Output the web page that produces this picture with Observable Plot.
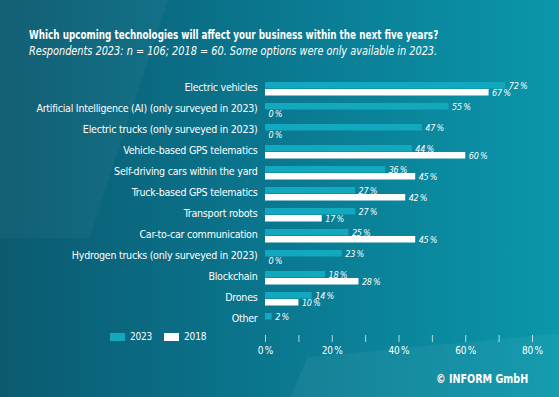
<!DOCTYPE html>
<html><head><meta charset="utf-8">
<script src="https://cdn.jsdelivr.net/npm/d3@7"></script>
<script src="https://cdn.jsdelivr.net/npm/@observablehq/plot@0.6"></script>
<style>
body{margin:0;}
#wrap{position:relative;width:559px;height:397px;overflow:hidden;background:linear-gradient(90deg,#0b5a70 0%,#0a7890 50%,#0a97ab 100%);font-family:"DejaVu Sans Condensed","DejaVu Sans",sans-serif;font-stretch:condensed;color:#fff;}
#shade1{position:absolute;inset:0;background:rgba(255,255,255,0.035);clip-path:polygon(0% 0%,30% 0%,16% 60%,0% 60%);}
#shade2{position:absolute;inset:0;background:rgba(255,255,255,0.05);clip-path:polygon(52% 100%,55% 90%,100% 84%,100% 100%);}
#title{position:absolute;left:29px;top:27px;font-weight:bold;font-size:13px;white-space:nowrap;transform:scaleX(0.755);transform-origin:0 0;}
#subtitle{position:absolute;left:29px;top:43px;font-style:italic;font-size:12.5px;white-space:nowrap;transform:scaleX(0.866);transform-origin:0 0;}
#chart{position:absolute;left:0;top:70px;}
#legend{position:absolute;left:110px;top:331px;font-size:10px;display:flex;gap:12px;letter-spacing:-0.2px;}
#legend span.sw{display:inline-block;width:15px;height:8px;margin-right:5px;vertical-align:-1px;}
#copy{position:absolute;left:436px;top:371px;font-size:13px;font-weight:bold;white-space:nowrap;transform:scaleX(0.82);transform-origin:0 0;}
</style></head>
<body><div id="wrap">
<div id="shade1"></div><div id="shade2"></div>
<div id="title">Which upcoming technologies will affect your business within the next five years?</div>
<div id="subtitle">Respondents 2023: n = 106; 2018 = 60. Some options were only available in 2023.</div>
<div id="chart"></div>
<div id="legend"></div>
<div id="copy">© INFORM GmbH</div>
</div>
<script>
const categories = ["Electric vehicles","Artificial Intelligence (AI) (only surveyed in 2023)","Electric trucks (only surveyed in 2023)","Vehicle-based GPS telematics","Self-driving cars within the yard","Truck-based GPS telematics","Transport robots","Car-to-car communication","Hydrogen trucks (only surveyed in 2023)","Blockchain","Drones","Other"];
const values2023 = [72,55,47,44,36,27,27,25,23,18,14,2];
const values2018 = [67,0,0,60,45,42,17,45,0,28,10,null];
const series = ["2023","2018"];
const seriesColors = ["#12a8be","#ffffff"];
const xTicks = [0,10,20,30,40,50,60,70,80];

const data = categories.flatMap((c,i)=>[
  {category:c, year:"2023", value:values2023[i]},
  {category:c, year:"2018", value:values2018[i]}
]).filter(d=>d.value!=null);

const font = '"DejaVu Sans Condensed","DejaVu Sans",sans-serif';
const chart = Plot.plot({
  width:559, height:290, marginLeft:265, marginRight:27, marginTop:12, marginBottom:25,
  style:{background:"transparent", color:"#fff", fontFamily:font, overflow:"visible", letterSpacing:"-0.25px"},
  x:{domain:[0,80]},
  y:{domain:series, axis:null, padding:0},
  fy:{domain:categories, paddingInner:1/3, paddingOuter:0.19, align:0},
  color:{domain:series, range:seriesColors},
  marks:[
    Plot.axisFy({anchor:"left", tickSize:0, tickPadding:8, label:null, fontSize:10.6, dy:-1.5, color:"#fff"}),
    Plot.axisX({ticks:xTicks, tickFormat:d=>d%20===0 ? d+"\u2009%" : "", tickSize:7, tickPadding:4, label:null, dy:8, color:"#fff", strokeOpacity:0.7, fontSize:10}),
    Plot.barX(data,{x:"value", y:"year", fy:"category", fill:"year", insetBottom:0.5}),
    Plot.text(data,{x:"value", y:"year", fy:"category", text:d=>d.value+"\u2009%", dx:3, textAnchor:"start", fontStyle:"italic", fill:"#fff", fontSize:9})
  ]
});
document.getElementById("chart").appendChild(chart);
const lg = document.getElementById("legend");
series.forEach((s,i)=>{
  const it = document.createElement("div");
  it.innerHTML = `<span class="sw" style="background:${seriesColors[i]}"></span>${s}`;
  lg.appendChild(it);
});
</script>
</body></html>
